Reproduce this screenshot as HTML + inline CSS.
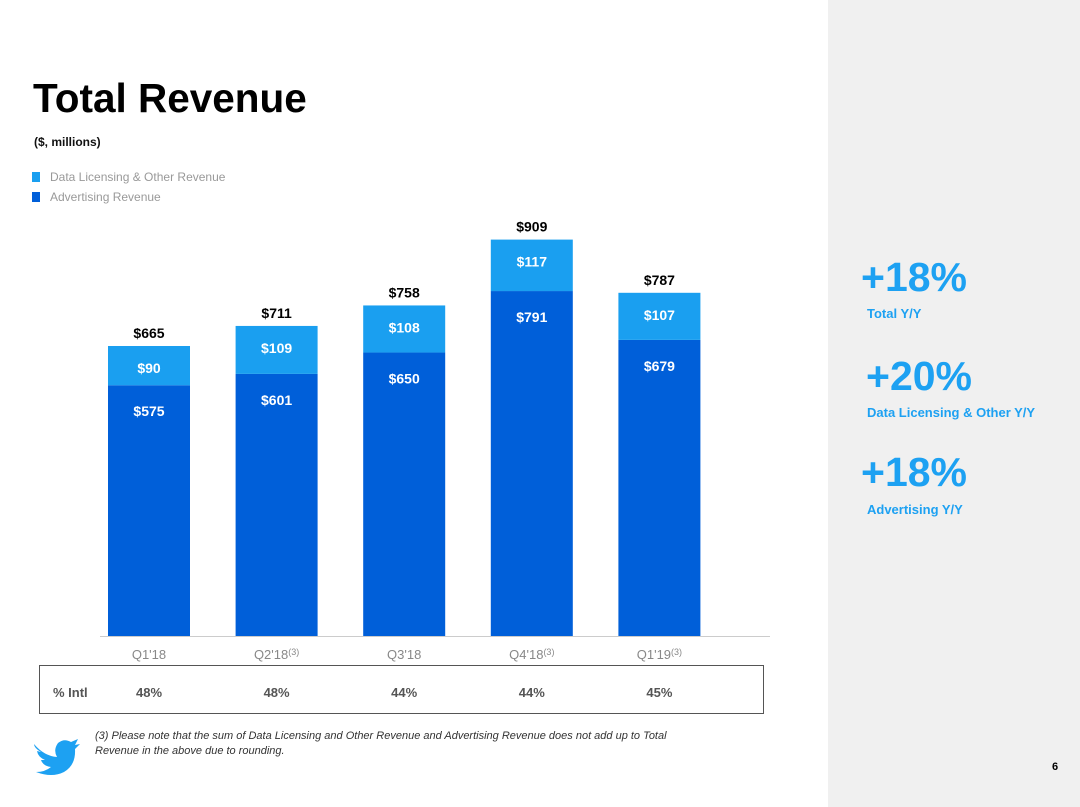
<!DOCTYPE html>
<html><head><meta charset="utf-8"><style>
body{margin:0;width:1080px;height:807px;overflow:hidden;background:#fff;font-family:"Liberation Sans",Arial,sans-serif;position:relative}
.abs{position:absolute}
</style></head><body>
<div class="abs" style="left:828px;top:0;width:252px;height:807px;background:#f0f0f0"></div>
<div class="abs" style="left:33px;top:75px;font-size:40.5px;font-weight:bold;color:#000">Total Revenue</div>
<div class="abs" style="left:34px;top:135px;font-size:12px;font-weight:bold;color:#111">($, millions)</div>
<div class="abs" style="left:32px;top:170px;font-size:12px;color:#999"><span style="display:inline-block;width:8px;height:10px;background:#1a9ff0;margin-right:10px;vertical-align:-1px"></span>Data Licensing &amp; Other Revenue</div>
<div class="abs" style="left:32px;top:190px;font-size:12px;color:#999"><span style="display:inline-block;width:8px;height:10px;background:#005fd9;margin-right:10px;vertical-align:-1px"></span>Advertising Revenue</div>

<svg class="abs" style="left:0;top:0" width="828" height="807">
<g id="bars"></g>
<line x1="100" x2="770" y1="636.5" y2="636.5" stroke="#ccc"/>
<rect x="39.5" y="665.5" width="724" height="48" fill="none" stroke="#555"/>
<text x="53" y="697" font-size="13" font-weight="bold" fill="#555">% Intl</text>
<g fill="#1da1f2">
<path d="M34 744 Q44 756 57 757 Q53 750 58 743 Q64 738 71 742 L78 739 L75 745 L80 744 L75 749 Q76 765 64 772 Q52 778 36 772 Q45 772 51 767 Q43 766 41 760 L45 760 Q38 757 37 751 L41 752 Q34 748 34 744Z"/>
</g>
<text font-size="11" font-style="italic" fill="#333"><tspan x="95" y="739">(3) Please note that the sum of Data Licensing and Other Revenue and Advertising Revenue does not add up to Total</tspan><tspan x="95" y="754">Revenue in the above due to rounding.</tspan></text>
</svg>

<div class="abs" style="left:861px;top:254px;font-size:41px;font-weight:bold;color:#1da1f2">+18%</div>
<div class="abs" style="left:867px;top:306px;font-size:13px;font-weight:bold;color:#1da1f2">Total Y/Y</div>
<div class="abs" style="left:866px;top:353px;font-size:41px;font-weight:bold;color:#1da1f2">+20%</div>
<div class="abs" style="left:867px;top:405px;font-size:13px;font-weight:bold;color:#1da1f2">Data Licensing &amp; Other Y/Y</div>
<div class="abs" style="left:861px;top:449px;font-size:41px;font-weight:bold;color:#1da1f2">+18%</div>
<div class="abs" style="left:867px;top:502px;font-size:13px;font-weight:bold;color:#1da1f2">Advertising Y/Y</div>
<div class="abs" style="left:1052px;top:761px;font-size:11px;font-weight:bold;color:#000">6</div>

<script>
const categories=["Q1'18","Q2'18","Q3'18","Q4'18","Q1'19"];
const footnoteMarks=["","(3)","","(3)","(3)"];
const advertising=[575,601,650,791,679];
const dataLicensing=[90,109,108,117,107];
const totals=[665,711,758,909,787];
const intl=["48%","48%","44%","44%","45%"];
const NS="http://www.w3.org/2000/svg";
const g=document.getElementById('bars');
const baseY=636, k=290/665, x0=108, step=127.6, bw=82;
const y=v=>baseY-v*k;
function mk(tag,attrs,txt){const e=document.createElementNS(NS,tag);for(const a in attrs)e.setAttribute(a,attrs[a]);if(txt!=null)e.textContent=txt;g.appendChild(e);return e;}
categories.forEach((c,i)=>{
  const x=x0+i*step, cx=x+bw/2;
  const adTop=y(advertising[i]), top=y(totals[i]);
  let e=mk('rect',{x:x,y:adTop,width:bw,height:baseY-adTop,fill:'#005fd9'});
  
  
  e=mk('rect',{x:x,y:top,width:bw,height:adTop-top,fill:'#1a9ff0'});
  
  
  e=mk('text',{x:cx,y:top-8,'text-anchor':'middle','font-size':14,'font-weight':'bold',fill:'#000'},'$'+totals[i]);
  
  
  e=mk('text',{x:cx,y:top+27,'text-anchor':'middle','font-size':14,'font-weight':'bold',fill:'#fff'},'$'+dataLicensing[i]);
  
  
  e=mk('text',{x:cx,y:adTop+31,'text-anchor':'middle','font-size':14,'font-weight':'bold',fill:'#fff'},'$'+advertising[i]);
  
  
  e=mk('text',{x:cx,y:659,'text-anchor':'middle','font-size':13,fill:'#888'},c);
  
  
  if(footnoteMarks[i]){const ts=document.createElementNS(NS,'tspan');ts.setAttribute('font-size','9');ts.setAttribute('dy','-4');ts.textContent=footnoteMarks[i];e.appendChild(ts);}
  e=mk('text',{x:cx,y:697,'text-anchor':'middle','font-size':13,'font-weight':'bold',fill:'#555'},intl[i]);
  
  
});
</script>
</body></html>
